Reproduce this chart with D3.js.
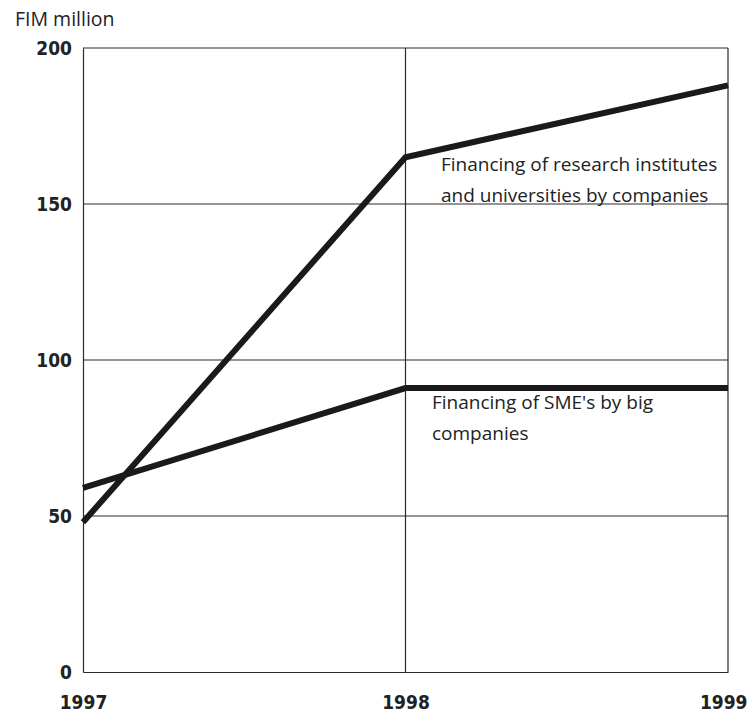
<!DOCTYPE html>
<html><head><meta charset="utf-8">
<script src="https://cdn.jsdelivr.net/npm/d3@7"></script>
<style>body{margin:0;background:#fff}svg{display:block}</style>
</head><body>
<svg id="c" width="749" height="715"></svg>
<script>
const years = [1997, 1998, 1999];
const yTicks = [0, 50, 100, 150, 200];
const researchFinancing = [48, 165, 188];
const smeFinancing = [59, 91, 91];
const unitLabel = "FIM million";
const researchLabel = ["Financing of research institutes", "and universities by companies"];
const smeLabel = ["Financing of SME's by big", "companies"];

(function () {
const svg = d3.select("#c");
const pLeft = 83, pRight = 728, pTop = 48, pBottom = 672;
const x = d3.scaleLinear().domain([1997, 1999]).range([pLeft, pRight]);
const y = d3.scaleLinear().domain([0, 200]).range([pBottom, pTop]);
const ink = "#2a2a2a";
const tickFont = "'DejaVu Sans Condensed', 'DejaVu Sans', sans-serif";
const textFont = "'Open Sans', sans-serif";

// grid
svg.append("g").selectAll("line").data(yTicks.filter(d => d > 0)).join("line")
  .attr("x1", pLeft).attr("x2", pRight).attr("y1", d => y(d)).attr("y2", d => y(d))
  .attr("stroke", ink).attr("stroke-width", 1.2);
svg.append("line").attr("x1", x(1998)).attr("x2", x(1998)).attr("y1", pTop).attr("y2", pBottom)
  .attr("stroke", ink).attr("stroke-width", 1.2);
svg.append("line").attr("x1", pRight).attr("x2", pRight).attr("y1", pTop).attr("y2", pBottom)
  .attr("stroke", ink).attr("stroke-width", 1.2);

// axes
const yAxis = d3.axisLeft(y).tickValues(yTicks).tickSize(0).tickPadding(11).tickFormat(d3.format("d"));
const ga = svg.append("g").attr("transform", `translate(${pLeft},0)`).call(yAxis);
ga.select(".domain").attr("stroke", ink).attr("stroke-width", 1.2);
ga.selectAll("text").attr("font-family", tickFont).attr("font-weight", "bold").attr("font-size", 19).attr("fill", "#222");

const xAxis = d3.axisBottom(x).tickValues(years).tickSize(0).tickPadding(24).tickFormat(d3.format("d"));
const gx = svg.append("g").attr("transform", `translate(0,${pBottom})`).call(xAxis);
gx.select(".domain").attr("stroke", ink).attr("stroke-width", 1.2);
gx.selectAll("text").attr("font-family", tickFont).attr("font-weight", "bold").attr("font-size", 19).attr("fill", "#222");
gx.selectAll(".tick").filter(d => d === 1999).select("text").attr("text-anchor", "end").attr("dx", 19);

// unit
svg.append("text").attr("x", 15).attr("y", 26).text(unitLabel)
  .attr("font-family", textFont).attr("font-size", 19.5).attr("fill", "#222");

// lines
const line = d3.line().x((d, i) => x(years[i])).y(d => y(d));
[researchFinancing, smeFinancing].forEach(s => {
  svg.append("path").attr("d", line(s)).attr("fill", "none")
    .attr("stroke", "#1a1a1a").attr("stroke-width", 6).attr("stroke-linejoin", "miter");
});

// annotations
function label(lines, x0, y0) {
  const t = svg.append("text").attr("font-family", textFont).attr("font-size", 19).attr("fill", "#222");
  lines.forEach((l, i) => t.append("tspan").attr("x", x0).attr("y", y0 + i * 31).text(l));
}
label(researchLabel, 441, 171);
label(smeLabel, 432, 409);
})();
</script>
</body></html>
